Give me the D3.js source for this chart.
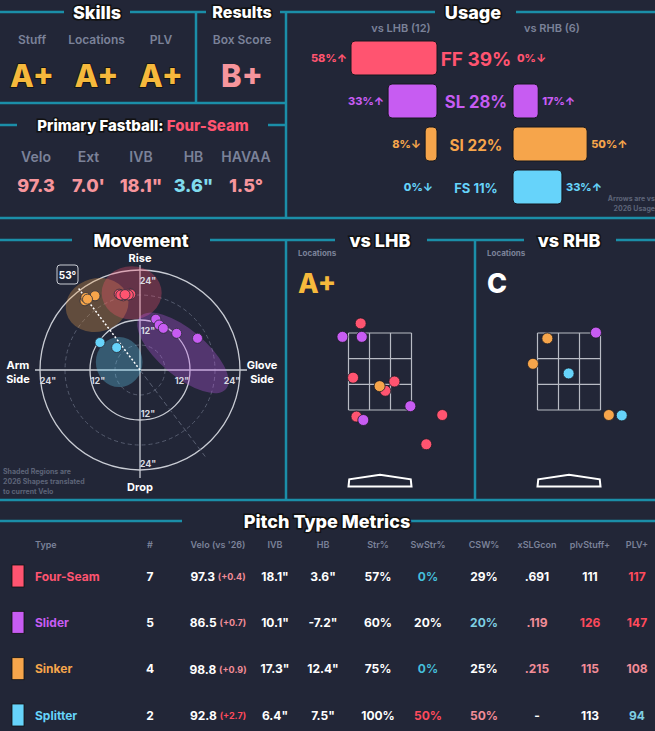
<!DOCTYPE html>
<html><head><meta charset="utf-8">
<script src="https://cdn.jsdelivr.net/npm/d3@7"></script>
<style>
body{margin:0;background:#222637;}
text{font-family:Inter,"Noto Sans",sans-serif;}
.hdr{font-weight:800;fill:#fff;stroke:#111;stroke-width:3px;paint-order:stroke;}
</style></head><body>
<div id="chart"></div>
<script>
// ---- data ----
var pitchNames = ["Four-Seam","Slider","Sinker","Splitter"];
var pitchCodes = ["FF","SL","SI","FS"];
var pitchColors = ["#ff5470","#c75cf2","#f6a54b","#66d3fa"];

var skillLabels = ["Stuff","Locations","PLV"];
var skillGrades = ["A+","A+","A+"];
var boxScore = "B+";

var fbLabels = ["Velo","Ext","IVB","HB","HAVAA"];
var fbValues = ["97.3","7.0'","18.1\"","3.6\"","1.5°"];
var fbTones = ["pink","pink","pink","cyan","pink"];

var usageAll = [39,28,22,11];
var usageL = [58,33,8,0];
var usageR = [0,17,50,33];
var arrowL = ["↑","↑","↓","↓"];
var arrowR = ["↓","↑","↑","↑"];

// movement points: [code, HB (arm side +), IVB]
var movePts = [
  ["SI",13.2,16.6],["SI",10.8,17.8],["SI",13.0,17.4],["SI",12.6,17.0],
  ["FF",5.0,18.2],["FF",4.0,17.8],["FF",2.4,18.4],["FF",2.2,18.2],["FF",4.6,18.0],["FF",2.8,18.0],["FF",3.6,18.1],
  ["SL",-3.8,12.2],["SL",-4.6,10.8],["SL",-5.6,10.0],["SL",-8.8,8.8],["SL",-13.8,7.6],
  ["FS",9.6,6.6],["FS",5.6,5.4]
];
// 2026 shapes: [code, cx HB, cy IVB, rx, ry, rotation deg]
var moveShapes = [
  ["SI",10.3,15.6,7.6,6.4,-15],
  ["FF",2.0,18.5,7.2,6.4,0],
  ["SL",-10.3,4.1,13.5,5.6,40],
  ["FS",5.0,1.9,5.6,6.0,0]
];
var armAngle = 53;
var ringTicks = [24,12,-12,-24];

// locations: [code, plate x ft, plate z ft]
var locL = [
  ["FF",-0.51,3.75],["FF",-0.71,2.34],["FF",0.38,2.24],["FF",0.14,2.0],["FF",-0.62,1.33],["FF",1.64,1.37],["FF",1.22,0.61],
  ["SL",-0.99,3.40],["SL",-0.48,3.40],["SL",0.80,1.60],["SL",-0.44,1.24],
  ["SI",-0.01,2.12]
];
var locR = [
  ["SI",-0.57,3.36],["SI",-0.95,2.70],["SI",1.05,1.37],
  ["SL",0.71,3.51],
  ["FS",-0.01,2.45],["FS",1.39,1.36]
];
var locGrades = ["A+","C"];

var tableHeads = ["Type","#","Velo (vs '26)","IVB","HB","Str%","SwStr%","CSW%","xSLGcon","plvStuff+","PLV+"];
var countCol = ["7","5","4","2"];
var veloCol = ["97.3","86.5","98.8","92.8"];
var veloDelta = ["(+0.4)","(+0.7)","(+0.9)","(+2.7)"];
var ivbCol = ["18.1\"","10.1\"","17.3\"","6.4\""];
var hbCol = ["3.6\"","-7.2\"","12.4\"","7.5\""];
var strCol = ["57%","60%","75%","100%"];
var swCol = ["0%","20%","0%","50%"];
var cswCol = ["29%","20%","25%","50%"];
var xslgCol = [".691",".119",".215","-"];
var stuffCol = ["111","126","115","113"];
var plvCol = ["117","147","108","94"];
var swTone = ["cyan","w","cyan","red"];
var cswTone = ["w","lcyan","w","pink"];
var xslgTone = ["w","pink","pink","w"];
var stuffTone = ["w","red","pink","w"];
var plvTone = ["red","red","pink","lcyan"];

// ---- drawing ----
var W = 655, H = 731;
var BG = "#222637", LINE = "#1b8ea8", GREY = "#7b8299";
var tone = {w:"#ffffff",pink:"#f38d98",red:"#ff4a5c",cyan:"#45bfdb",lcyan:"#7fcfe2"};
var colorOf = d3.scaleOrdinal().domain(pitchCodes).range(pitchColors);

var svg = d3.select("#chart").append("svg").attr("width",W).attr("height",H)
  .style("background",BG);

function line(x1,y1,x2,y2){
  svg.append("line").attr("x1",x1).attr("y1",y1).attr("x2",x2).attr("y2",y2)
    .attr("stroke",LINE).attr("stroke-width",2.5);
}
function txt(x,y,s,size,fill,anchor,weight){
  return svg.append("text").attr("x",x).attr("y",y).text(s)
    .attr("font-size",size).attr("fill",fill).attr("text-anchor",anchor||"middle")
    .attr("font-weight",weight||700).attr("dominant-baseline","central");
}
function header(x,y,s,size){
  return txt(x,y,s,size||18,"#fff").attr("class","hdr");
}

// frame lines
line(0,12,64,12); line(130,12,196,12); line(196,12,196,103);
line(196,12,206,12); line(280,12,286,12);
line(286,12,286,218); line(286,12,435,12); line(516,12,655,12);
line(0,103,286,103);
line(0,125,17,125); line(268,125,286,125);
line(0,218,655,218);
line(0,240,72,240); line(210,240,286,240); line(286,240,286,500);
line(286,240,335,240); line(427,240,524,240); line(475,240,475,500);
line(616,240,655,240);
line(0,500,655,500);
line(0,521,182,521); line(345,521,655,521);

// skills
header(97,12,"Skills");
header(242,12,"Results",16);
var sx = d3.scalePoint().domain(skillLabels).range([32,161]);
skillLabels.forEach(function(l,i){
  txt(sx(l),39,l,12,GREY,"middle",600);
  txt(sx(l),75,skillGrades[i],31,"#f6b93c","middle",800).attr("stroke","#111").attr("stroke-width",1.5).style("paint-order","stroke");
});
txt(242,39,"Box Score",12,GREY,"middle",600);
txt(242,75,boxScore,31,"#f7959c","middle",800);

// primary fastball
var pf = svg.append("text").attr("x",143).attr("y",125).attr("text-anchor","middle")
  .attr("dominant-baseline","central").attr("font-size",15).attr("font-weight",800);
pf.append("tspan").text("Primary Fastball: ").attr("class","hdr");
pf.append("tspan").text("Four-Seam").attr("fill",pitchColors[0]);
var fx = d3.scalePoint().domain(fbLabels).range([36,246]);
fbLabels.forEach(function(l,i){
  txt(fx(l),156,l,14,GREY,"middle",600);
  txt(fx(l),185,fbValues[i],18,fbTones[i]=="cyan"?"#80dcee":"#f7959c","middle",800);
});

// usage
header(473,12,"Usage");
txt(401,28,"vs LHB (12)",11,GREY,"middle",600);
txt(552,28,"vs RHB (6)",11,GREY,"middle",600);
var ux = d3.scaleLinear().domain([0,58]).range([0,86]);
var uy = d3.scalePoint().domain(pitchCodes).range([58,187]);
var fsz = d3.scaleLinear().domain([11,39]).range([13,19]);
pitchCodes.forEach(function(c,i){
  var y = uy(c), col = colorOf(c);
  if(usageL[i]>0) svg.append("rect").attr("x",437-ux(usageL[i])).attr("y",y-17)
    .attr("width",ux(usageL[i])).attr("height",34).attr("rx",4).attr("fill",col)
    .attr("stroke","#15171f").attr("stroke-width",1);
  if(usageR[i]>0) svg.append("rect").attr("x",513).attr("y",y-17)
    .attr("width",ux(usageR[i])).attr("height",34).attr("rx",4).attr("fill",col)
    .attr("stroke","#15171f").attr("stroke-width",1);
  txt(476,y+1,c+" "+usageAll[i]+"%",fsz(usageAll[i]),col,"middle",700);
  txt(437-ux(usageL[i])-4,y,usageL[i]+"%"+arrowL[i],11,col,"end",800);
  txt(513+ux(usageR[i])+4,y,usageR[i]+"%"+arrowR[i],11,col,"start",800);
});
txt(655,198,"Arrows are vs",7,"#5d6478","end",700);
txt(655,208,"2026 Usage",7,"#5d6478","end",700);

// movement
header(141,240,"Movement");
var cx = 140, cy = 370;
var mr = d3.scaleLinear().domain([0,24]).range([0,100]);
var mx = d3.scaleLinear().domain([24,-24]).range([cx-100,cx+100]);
var my = d3.scaleLinear().domain([-24,24]).range([cy+100,cy-100]);
[6,18].forEach(function(r){
  svg.append("circle").attr("cx",cx).attr("cy",cy).attr("r",mr(r)).attr("fill","none")
    .attr("stroke","#555b6e").attr("stroke-width",1).attr("stroke-dasharray","4,3");
});
[12,24].forEach(function(r){
  svg.append("circle").attr("cx",cx).attr("cy",cy).attr("r",mr(r)).attr("fill","none")
    .attr("stroke","#c9ccd4").attr("stroke-width",1.3);
});
svg.append("line").attr("x1",35).attr("x2",247).attr("y1",cy).attr("y2",cy).attr("stroke","#c9ccd4").attr("stroke-width",1.3);
svg.append("line").attr("x1",cx).attr("x2",cx).attr("y1",265).attr("y2",478).attr("stroke","#c9ccd4").attr("stroke-width",1.3);
var a = armAngle*Math.PI/180;
svg.append("line").attr("x1",cx).attr("y1",cy).attr("x2",mx(-26*Math.cos(a))).attr("y2",my(-26*Math.sin(a)))
  .attr("stroke","#5a6073").attr("stroke-width",1).attr("stroke-dasharray","5,3");
moveShapes.forEach(function(s){
  svg.append("ellipse").attr("cx",mx(s[1])).attr("cy",my(s[2])).attr("rx",mr(s[3])).attr("ry",mr(s[4]))
    .attr("transform","rotate("+s[5]+","+mx(s[1])+","+my(s[2])+")")
    .attr("fill",colorOf(s[0])).attr("opacity",0.3);
});
svg.append("line").attr("x1",cx).attr("y1",cy).attr("x2",mx(24.5*Math.cos(a))).attr("y2",my(24.5*Math.sin(a)))
  .attr("stroke","#fff").attr("stroke-width",1.5).attr("stroke-dasharray","2,2");
ringTicks.forEach(function(v){
  txt(mx(v)+(v>0?8:-8),cy+10,Math.abs(v)+"\"",9,"#d8dae0","middle",700);
  txt(cx+8,my(v)+(v>0?10:-7),Math.abs(v)+"\"",9,"#d8dae0","middle",700);
});
svg.selectAll(".mp").data(movePts).enter().append("circle")
  .attr("cx",function(d){return mx(d[1]);}).attr("cy",function(d){return my(d[2]);})
  .attr("r",5).attr("fill",function(d){return colorOf(d[0]);}).attr("stroke","#2a2d3a").attr("stroke-width",0.8);
svg.append("rect").attr("x",57).attr("y",265).attr("width",21).attr("height",19).attr("rx",3)
  .attr("fill",BG).attr("stroke","#c9ccd4").attr("stroke-width",1);
txt(67.5,274.5,armAngle+"°",10,"#fff","middle",700);
txt(cx,258,"Rise",11,"#fff","middle",700);
txt(cx,487,"Drop",11,"#fff","middle",700);
txt(18,365,"Arm",11,"#fff","middle",700); txt(18,379,"Side",11,"#fff","middle",700);
txt(262,365,"Glove",11,"#fff","middle",700); txt(262,379,"Side",11,"#fff","middle",700);
txt(3,471,"Shaded Regions are",7,"#5d6478","start",700);
txt(3,481,"2026 Shapes translated",7,"#5d6478","start",700);
txt(3,491,"to current Velo",7,"#5d6478","start",700);

// locations
function locPanel(x0, center, title, grade, gradeCol, pts){
  header(center,240,title);
  txt(x0+12,253,"Locations",8,GREY,"start",700);
  txt(x0+12,283,grade,27,gradeCol,"start",800);
  var lx = d3.scaleLinear().domain([-0.83,0.83]).range([center-31.5,center+31.5]);
  var lz = d3.scaleLinear().domain([1.5,3.5]).range([410,333]);
  var gx = d3.range(4).map(function(k){return -0.83+k*1.66/3;});
  var gz = d3.range(4).map(function(k){return 1.5+k*2/3;});
  gx.forEach(function(v){svg.append("line").attr("x1",lx(v)).attr("x2",lx(v)).attr("y1",lz(1.5)).attr("y2",lz(3.5)).attr("stroke","#b8bbc4").attr("stroke-width",1.2);});
  gz.forEach(function(v){svg.append("line").attr("y1",lz(v)).attr("y2",lz(v)).attr("x1",lx(-0.83)).attr("x2",lx(0.83)).attr("stroke","#b8bbc4").attr("stroke-width",1.2);});
  var p = [[-0.83,-0.49],[0.83,-0.49],[0.81,-0.3],[0,-0.18],[-0.81,-0.3]];
  svg.append("path").attr("d",d3.line()(p.map(function(q){return [lx(q[0]),lz(q[1])];}))+"Z")
    .attr("fill","none").attr("stroke","#fff").attr("stroke-width",2);
  svg.selectAll(null).data(pts).enter().append("circle")
    .attr("cx",function(d){return lx(d[1]);}).attr("cy",function(d){return lz(d[2]);})
    .attr("r",5.5).attr("fill",function(d){return colorOf(d[0]);}).attr("stroke","#1a1c26").attr("stroke-width",0.8);
}
locPanel(286,380,"vs LHB",locGrades[0],"#f6b93c",locL);
locPanel(475,569,"vs RHB",locGrades[1],"#fff",locR);

// table
header(327,521,"Pitch Type Metrics");
var colX = [35,150,218,275,323,378,428,484,537,590,637];
tableHeads.forEach(function(h,i){ txt(colX[i],544,h,9,GREY,i==0?"start":"middle",600); });
var ty = d3.scalePoint().domain(pitchNames).range([576,715]);
pitchNames.forEach(function(n,i){
  var y = ty(n), col = pitchColors[i];
  svg.append("rect").attr("x",12).attr("y",y-11).attr("width",12).attr("height",22).attr("fill",col)
    .attr("stroke","#111").attr("stroke-width",0.8);
  txt(35,y,n,12,col,"start",700);
  txt(colX[1],y,countCol[i],12,"#fff","middle",700);
  var v = svg.append("text").attr("x",colX[2]).attr("y",y).attr("text-anchor","middle").attr("dominant-baseline","central").attr("font-weight",700);
  v.append("tspan").text(veloCol[i]+" ").attr("fill","#fff").attr("font-size",12);
  v.append("tspan").text(veloDelta[i]).attr("fill",i==3?"#ff4a5c":"#f38d98").attr("font-size",9);
  txt(colX[3],y,ivbCol[i],12,"#fff","middle",700);
  txt(colX[4],y,hbCol[i],12,"#fff","middle",700);
  txt(colX[5],y,strCol[i],12,"#fff","middle",700);
  txt(colX[6],y,swCol[i],12,tone[swTone[i]],"middle",700);
  txt(colX[7],y,cswCol[i],12,tone[cswTone[i]],"middle",700);
  txt(colX[8],y,xslgCol[i],12,tone[xslgTone[i]],"middle",700);
  txt(colX[9],y,stuffCol[i],12,tone[stuffTone[i]],"middle",700);
  txt(colX[10],y,plvCol[i],12,tone[plvTone[i]],"middle",700);
});
</script></body></html>
